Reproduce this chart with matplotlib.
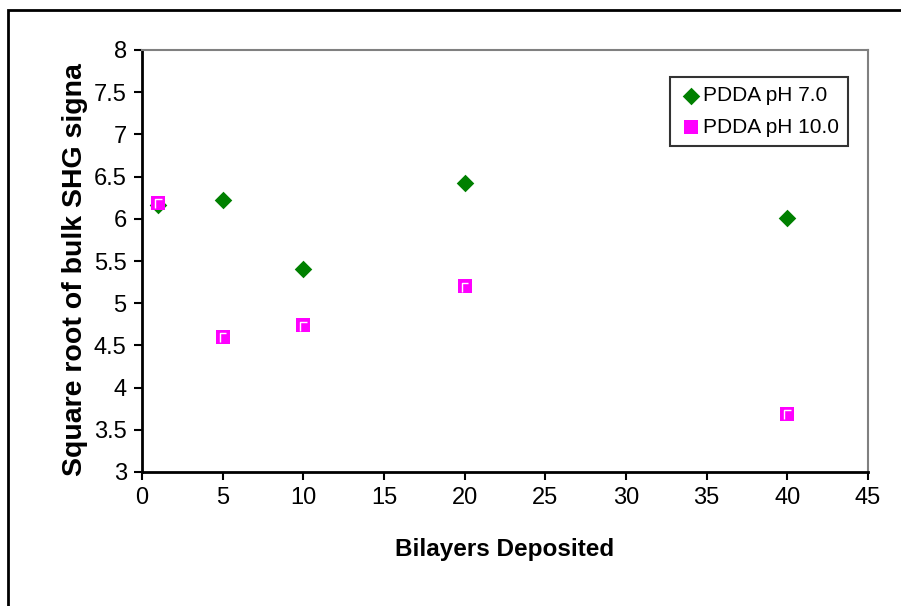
import matplotlib.pyplot as plt
from matplotlib.patches import Rectangle
from matplotlib.path import Path

plt.rcParams['font.family'] = ['Liberation Sans', 'DejaVu Sans']

bilayers = [1, 5, 10, 20, 40]
ph7 = [6.16, 6.22, 5.41, 6.42, 6.01]
ph10 = [6.19, 4.60, 4.74, 5.20, 3.69]

fig = plt.figure(figsize=(9.01, 6.06), dpi=100)
ax = fig.add_axes([142 / 901, 1 - 472 / 606, 726 / 901, 422 / 606])

# white corner mark inside the square markers (Excel look)
corner = Path([(-0.25, -0.45), (-0.25, 0.3), (0.3, 0.3)],
              [Path.MOVETO, Path.LINETO, Path.LINETO])

ax.scatter(bilayers, ph7, marker='D', s=80, color='#008000', lw=0,
           label='PDDA pH 7.0', zorder=3)
ax.scatter(bilayers, ph10, marker='s', s=100, color='#ff00ff', lw=0,
           label='PDDA pH 10.0', zorder=4)
ax.scatter(bilayers, ph10, marker=corner, s=60, facecolor='none',
           edgecolor='white', lw=1.0, zorder=5)

ax.set_xlim(0, 45)
ax.set_ylim(3, 8)
ax.set_xticks(range(0, 46, 5))
ax.set_yticks([3, 3.5, 4, 4.5, 5, 5.5, 6, 6.5, 7, 7.5, 8])
ax.set_yticklabels(['3', '3.5', '4', '4.5', '5', '5.5', '6', '6.5', '7', '7.5', '8'])
ax.tick_params(direction='out', length=6, width=1.5, labelsize=17, pad=5)

for s in ['left', 'bottom']:
    ax.spines[s].set_linewidth(2)
    ax.spines[s].set_color('black')
for s in ['top', 'right']:
    ax.spines[s].set_linewidth(1.5)
    ax.spines[s].set_color('#808080')

ax.set_xlabel('Bilayers Deposited', fontsize=17.5, fontweight='bold', labelpad=21)
ax.set_ylabel('Square root of bulk SHG signa', fontsize=20.5, fontweight='bold')
ax.yaxis.set_label_coords(-0.0744, 0.479)

leg = ax.legend(loc='upper right', bbox_to_anchor=((848 - 142) / 726, (472 - 77) / 422),
                fontsize=15, frameon=True, fancybox=False, handletextpad=0.0,
                borderpad=0.45, labelspacing=0.6, handlelength=1.1, borderaxespad=0)
leg.get_frame().set_edgecolor('black')
leg.get_frame().set_linewidth(1.5)

# outer chart border, runs off the right and bottom edges
fig.patches.append(Rectangle((8 / 901, -0.05), 1.2, 1 - 10 / 606 + 0.05,
                             transform=fig.transFigure, fill=False,
                             edgecolor='black', lw=2))

fig.savefig('out.png', dpi=100)
